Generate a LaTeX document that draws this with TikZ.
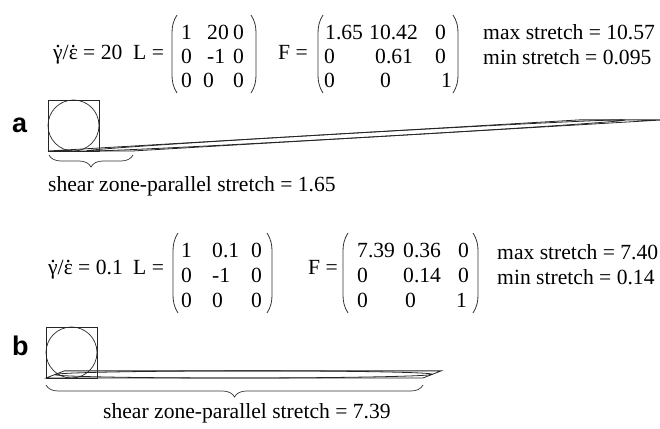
\documentclass[tikz,border=0pt]{standalone}
\usepackage{fontspec}
\setmainfont{Liberation Serif}
\newfontfamily\labelfont{Liberation Sans}
\usetikzlibrary{decorations.pathreplacing,calc}
\newcommand\dotover[1]{{\ooalign{#1\cr\hidewidth\raisebox{0.56em}{.}\hidewidth\cr}}}
\begin{document}
\begin{tikzpicture}[x=1pt,y=1pt,
  txt/.style={font=\fontsize{21.6}{24}\selectfont, inner sep=0pt, anchor=base west},
  lbl/.style={font=\labelfont\bfseries\fontsize{27}{30}\selectfont, inner sep=0pt, anchor=base west},
  thinline/.style={line width=0.7pt, draw=black!85},
  defline/.style={line width=0.8pt, draw=black!85},
  parenline/.style={line width=0.8pt, draw=black!80},
  bracestyle/.style={line width=0.7pt, draw=black!80, decorate, decoration={brace, mirror, amplitude=12pt}}]
\useasboundingbox (0,0) rectangle (660,428);

% ---------- panel a ----------
\node[txt] (rateA) at (53,368) {\dotover{γ}/\dotover{ε} = 20};
\node[txt] (LeqA) at (133,368) {L =};
\node[txt] (La11) at (181,388) {1};
\node[txt] (La12) at (207,388) {20};
\node[txt] (La13) at (233,388) {0};
\node[txt] (La21) at (181,364) {0};
\node[txt] (La22) at (207,364) {-1};
\node[txt] (La23) at (233,364) {0};
\node[txt] (La31) at (181,340) {0};
\node[txt] (La32) at (203,340) {0};
\node[txt] (La33) at (233,340) {0};
\draw[parenline] (177,413) .. controls (173,407) and (172,401) .. (172,395) -- (172,353) .. controls (172,347) and (173,341) .. (177,335);
\draw[parenline] (251,413) .. controls (255,407) and (256,401) .. (256,395) -- (256,353) .. controls (256,347) and (255,341) .. (251,335);

\node[txt] (FeqA) at (278,368) {F =};
\node[txt] (Fa11) at (325,388) {1.65};
\node[txt] (Fa12) at (369,388) {10.42};
\node[txt] (Fa13) at (435,388) {0};
\node[txt] (Fa21) at (324,364) {0};
\node[txt] (Fa22) at (375,364) {0.61};
\node[txt] (Fa23) at (435,364) {0};
\node[txt] (Fa31) at (324,340) {0};
\node[txt] (Fa32) at (380,340) {0};
\node[txt] (Fa33) at (441,340) {1};
\draw[parenline] (323,413) .. controls (319,407) and (318,401) .. (318,395) -- (318,353) .. controls (318,347) and (319,341) .. (323,335);
\draw[parenline] (453,413) .. controls (457,407) and (458,401) .. (458,395) -- (458,353) .. controls (458,347) and (457,341) .. (453,335);

\node[txt] (maxA) at (483,388) {max stretch = 10.57};
\node[txt] (minA) at (483,363) {min stretch = 0.095};

\node[lbl] (labA) at (12,295) {a};
\coordinate (oA) at (48,277);
\draw[thinline] (oA) rectangle ++(51,51);
\draw[thinline] ($(oA)+(25.5,25.5)$) circle (25.5);
\begin{scope}
  \clip (0,0) rectangle (660,428);
  \begin{scope}[shift={(oA)}, cm={1.65,0,10.42,0.61,(0,0)}]
    \draw[defline] (0,0) rectangle (51,51);
    \draw[defline] (25.5,25.5) circle (25.5);
  \end{scope}
\end{scope}
\coordinate (brA1) at (49,273);
\coordinate (brA2) at (133,273);
\draw[bracestyle] (brA1) -- (brA2);
\node[txt] (strA) at (48,236) {shear zone-parallel stretch = 1.65};

% ---------- panel b ----------
\node[txt] (rateB) at (48,153) {\dotover{γ}/\dotover{ε} = 0.1};
\node[txt] (LeqB) at (133,153) {L =};
\node[txt] (Lb11) at (181,170) {1};
\node[txt] (Lb12) at (212,170) {0.1};
\node[txt] (Lb13) at (251,170) {0};
\node[txt] (Lb21) at (181,145) {0};
\node[txt] (Lb22) at (212,145) {-1};
\node[txt] (Lb23) at (251,145) {0};
\node[txt] (Lb31) at (181,120) {0};
\node[txt] (Lb32) at (212,120) {0};
\node[txt] (Lb33) at (251,120) {0};
\draw[parenline] (178,195) .. controls (174,189) and (173,183) .. (173,177) -- (173,133) .. controls (173,127) and (174,121) .. (178,115);
\draw[parenline] (267,195) .. controls (271,189) and (272,183) .. (272,177) -- (272,133) .. controls (272,127) and (271,121) .. (267,115);

\node[txt] (FeqB) at (308,153) {F =};
\node[txt] (Fb11) at (357,170) {7.39};
\node[txt] (Fb12) at (403,170) {0.36};
\node[txt] (Fb13) at (458,170) {0};
\node[txt] (Fb21) at (357,145) {0};
\node[txt] (Fb22) at (403,145) {0.14};
\node[txt] (Fb23) at (458,145) {0};
\node[txt] (Fb31) at (357,120) {0};
\node[txt] (Fb32) at (405,120) {0};
\node[txt] (Fb33) at (456,120) {1};
\draw[parenline] (348,195) .. controls (344,189) and (343,183) .. (343,177) -- (343,133) .. controls (343,127) and (344,121) .. (348,115);
\draw[parenline] (473,195) .. controls (477,189) and (478,183) .. (478,177) -- (478,133) .. controls (478,127) and (477,121) .. (473,115);

\node[txt] (maxB) at (497,168) {max stretch = 7.40};
\node[txt] (minB) at (497,143) {min stretch = 0.14};

\node[lbl] (labB) at (12,73) {b};
\coordinate (oB) at (46,50);
\draw[thinline] (oB) rectangle ++(51,51);
\draw[thinline] ($(oB)+(25.5,25.5)$) circle (25.5);
\begin{scope}[shift={(oB)}, cm={7.39,0,0.36,0.14,(0,0)}]
  \draw[defline] (0,0) rectangle (51,51);
  \draw[defline] (25.5,25.5) circle (25.5);
\end{scope}
\coordinate (brB1) at (46,43);
\coordinate (brB2) at (423,43);
\draw[bracestyle] (brB1) -- (brB2);
\node[txt] (strB) at (103,10) {shear zone-parallel stretch = 7.39};
\end{tikzpicture}
\end{document}
